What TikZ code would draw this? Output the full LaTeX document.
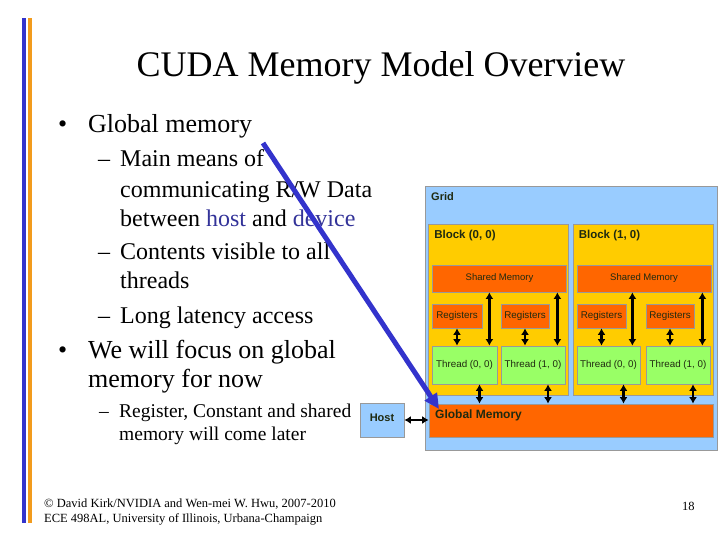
\documentclass[tikz,border=0pt]{standalone}
\usepackage{fontspec}
\setmainfont{Liberation Serif}
\setsansfont{Liberation Sans}
\usetikzlibrary{arrows.meta,positioning,calc}
\definecolor{barblue}{HTML}{3333CC}
\definecolor{barorange}{HTML}{F29B1D}
\definecolor{hostblue}{HTML}{333399}
\definecolor{gridbg}{HTML}{99CCFF}
\definecolor{blockbg}{HTML}{FFCC00}
\definecolor{memorange}{HTML}{FF6600}
\definecolor{threadbg}{HTML}{99FF66}
\definecolor{edgegray}{HTML}{999999}
\definecolor{boxink}{HTML}{1F2A10}
\tikzset{
  titletext/.style={anchor=base,inner sep=0pt,font=\fontsize{36}{40}\selectfont},
  bullettext/.style={anchor=base west,inner sep=0pt,font=\fontsize{26}{30}\selectfont},
  subtext/.style={anchor=base west,inner sep=0pt,font=\fontsize{24}{28}\selectfont},
  subsubtext/.style={anchor=base west,inner sep=0pt,font=\fontsize{19.5}{23}\selectfont},
  foottext/.style={anchor=base west,inner sep=0pt,font=\fontsize{12.5}{14}\selectfont},
  panel/.style={draw=edgegray,line width=0.8pt,inner sep=0pt},
  gridbox/.style={panel,fill=gridbg},
  blockbox/.style={panel,fill=blockbg},
  sharedbox/.style={panel,fill=memorange,minimum height=27,
                    font=\sffamily\fontsize{9.5}{11}\selectfont\color{boxink}},
  regbox/.style={panel,fill=memorange,minimum height=24,
                 font=\sffamily\fontsize{9.8}{11}\selectfont\color{boxink}},
  threadbox/.style={panel,fill=threadbg,minimum height=38,
                    font=\sffamily\fontsize{9.8}{11}\selectfont\color{boxink}},
  boxlabel/.style={anchor=west,inner sep=0pt,font=\sffamily\bfseries\fontsize{11.5}{13}\selectfont\color{boxink}},
  duplex/.style={{Latex[length=6.5pt,width=8pt]}-{Latex[length=6.5pt,width=8pt]},line width=2.6pt,black},
  pointer/.style={-{Triangle[length=15pt,width=14pt]},line width=5pt,color=barblue}
}
\begin{document}
\begin{tikzpicture}[x=1pt,y=-1pt]
  \useasboundingbox[fill=white] (0,0) rectangle (720,540);
  % side bars
  \fill[barblue] (22,18) rectangle (26,523);
  \fill[barorange] (28,18) rectangle (32,523);
  % slide text
  \node[titletext] (title) at (381,77) {CUDA Memory Model Overview};
  \node[bullettext] (b1dot) at (58,133) {•};
  \node[bullettext] (b1) at (88,133) {Global memory};
  \node[subtext] (s1dash) at (98,167) {–};
  \node[subtext] (s1a) at (120,167) {Main means of};
  \node[subtext] (s1b) at (120,197) {communicating R/W Data};
  \node[subtext] (s1c) at (120,226) {between \textcolor{hostblue}{host} and \textcolor{hostblue}{device}};
  \node[subtext] (s2dash) at (98,259) {–};
  \node[subtext] (s2a) at (120,259) {Contents visible to all};
  \node[subtext] (s2b) at (120,288) {threads};
  \node[subtext] (s3dash) at (98,323) {–};
  \node[subtext] (s3a) at (120,323) {Long latency access};
  \node[bullettext] (b2dot) at (58,358) {•};
  \node[bullettext] (b2a) at (88,358) {We will focus on global};
  \node[bullettext] (b2b) at (88,387) {memory for now};
  \node[subsubtext] (t1dash) at (99,417) {–};
  \node[subsubtext] (t1a) at (119,417) {Register, Constant and shared};
  \node[subsubtext] (t1b) at (119,440) {memory will come later};
  \node[foottext] (foot1) at (44,507) {© David Kirk/NVIDIA and Wen-mei W. Hwu, 2007-2010};
  \node[foottext] (foot2) at (44,522) {ECE 498AL, University of Illinois, Urbana-Champaign};
  \node[foottext] (page) at (682,510) {18};
  % memory model
  \node[gridbox,minimum width=292,minimum height=264] (grid) at (571,318) {};
  \node[boxlabel,font=\sffamily\bfseries\fontsize{11}{13}\selectfont\color{boxink}] at (431,197) {Grid};
  \foreach \b/\cx in {0/498.5,1/643} {
    \node[blockbox,minimum width=140,minimum height=171] (blk\b) at (\cx,309.5) {};
    \node[boxlabel] at ($(blk\b.north west)+(6,12)$) {Block (\b, 0)};
    \node[sharedbox,minimum width=134] (sm\b) at (\cx+1,278.5) {Shared Memory};
  }
  \node[regbox,minimum width=50] (rg00) at (457,316) {Registers};
  \node[regbox,minimum width=48] (rg10) at (525,316) {Registers};
  \node[regbox,minimum width=49] (rg01) at (601.5,316) {Registers};
  \node[regbox,minimum width=48] (rg11) at (670,316) {Registers};
  \node[threadbox,minimum width=65] (th00) at (464.5,365) {Thread (0, 0)};
  \node[threadbox,minimum width=64] (th10) at (533,365) {Thread (1, 0)};
  \node[threadbox,minimum width=63] (th01) at (608.5,365) {Thread (0, 0)};
  \node[threadbox,minimum width=64] (th11) at (678,365) {Thread (1, 0)};
  \node[panel,fill=memorange,minimum width=284,minimum height=33] (gm) at (571,420.5) {};
  \node[boxlabel,font=\sffamily\bfseries\fontsize{12}{14}\selectfont\color{boxink}] at (435,415) {Global Memory};
  \node[panel,fill=gridbg,minimum width=44,minimum height=34,
        font=\sffamily\bfseries\fontsize{11}{13}\selectfont\color{boxink}] (host) at (382,420) {\raisebox{5pt}{Host}};
  % connectors
  \foreach \t/\b in {00/0,10/0,01/1,11/1} {
    \draw[duplex] (rg\t.south) -- (rg\t.south |- th\t.north);
    \draw[duplex] ([xshift=-8pt]th\t.north east) -- ([xshift=-8pt]th\t.north east |- sm\b.south);
    \draw[duplex] ([xshift=15pt]th\t.south) -- ([xshift=15pt]th\t.south |- gm.north);
  }
  \draw[duplex] (host.east) -- (host.east -| gm.west);
  \coordinate (ptail) at (263,143);
  \coordinate (phead) at (439,409);
  \draw[pointer] (ptail) -- (phead);
\end{tikzpicture}
\end{document}
